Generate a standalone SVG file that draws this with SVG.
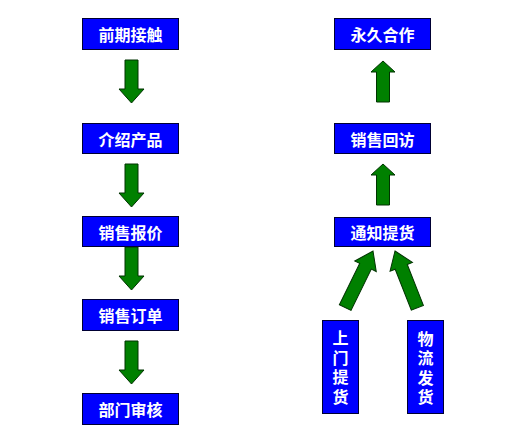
<svg xmlns="http://www.w3.org/2000/svg" width="507" height="428" viewBox="0 0 507 428">
<style>
.box{fill:#0000ff;stroke:#000033;stroke-width:1}
.lbl{fill:#ffffff;font-family:"Noto Sans CJK SC","Noto Sans CJK JP",sans-serif;font-weight:bold;font-size:16px;text-anchor:middle;dominant-baseline:central}
.vl{writing-mode:vertical-rl;font-size:16px;letter-spacing:3.5px}
.arr{fill:#008000;stroke:#003300;stroke-width:1;stroke-linejoin:miter}
</style>
<defs>
<path id="down" d="M-6.5,0 H6.5 V29 H12.5 L0,43 L-12.5,29 H-6.5 Z"/>
<path id="up" d="M0,0 L12,11 H6.5 V41 H-6.5 V11 H-12 Z"/>
</defs>
<rect width="507" height="428" fill="#ffffff"/>
<g id="connectors">
<use href="#down" class="arr" x="131.5" y="60"/>
<use href="#down" class="arr" x="131.5" y="164"/>
<use href="#down" class="arr" x="131.5" y="247"/>
<use href="#down" class="arr" x="131.5" y="341"/>
<use href="#up" class="arr" x="383" y="61"/>
<use href="#up" class="arr" x="383" y="164"/>
<path class="arr" transform="translate(373,251) rotate(26.2)" d="M0,0 L12,17 H6.5 V63 H-6.5 V17 H-12 Z"/>
<path class="arr" transform="translate(395,251) rotate(-21.5)" d="M0,0 L12,17 H6.5 V61 H-6.5 V17 H-12 Z"/>
</g>
<g id="n1"><rect class="box" x="82.5" y="18.5" width="96" height="31"/><text class="lbl" x="130.5" y="34">前期接触</text></g>
<g id="n2"><rect class="box" x="82.5" y="123.5" width="96" height="30"/><text class="lbl" x="130.5" y="138.5">介绍产品</text></g>
<g id="n3"><rect class="box" x="82.5" y="216.5" width="96" height="30"/><text class="lbl" x="130.5" y="231.5">销售报价</text></g>
<g id="n4"><rect class="box" x="82.5" y="299.5" width="96" height="31"/><text class="lbl" x="130.5" y="315">销售订单</text></g>
<g id="n5"><rect class="box" x="82.5" y="393.5" width="96" height="31"/><text class="lbl" x="130.5" y="409">部门审核</text></g>
<g id="n6"><rect class="box" x="334.5" y="18.5" width="96" height="31"/><text class="lbl" x="382.5" y="34">永久合作</text></g>
<g id="n7"><rect class="box" x="334.5" y="123.5" width="96" height="30"/><text class="lbl" x="382.5" y="138.5">销售回访</text></g>
<g id="n8"><rect class="box" x="334.5" y="217.5" width="96" height="29"/><text class="lbl" x="382.5" y="232">通知提货</text></g>
<g id="n9"><rect class="box" x="322.5" y="320.5" width="36" height="93"/>
<text class="lbl vl" x="340.5" y="369">上门提货</text></g>
<g id="n10"><rect class="box" x="407.5" y="320.5" width="36" height="93"/>
<text class="lbl vl" x="425.5" y="369.5">物流发货</text></g>
</svg>
